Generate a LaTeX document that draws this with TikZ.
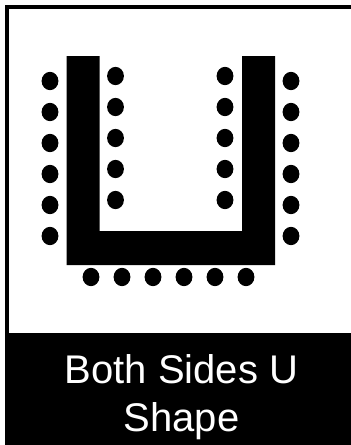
\documentclass[tikz,border=0pt]{standalone}
\usepackage{fontspec}
\setmainfont{Liberation Sans}
\usetikzlibrary{positioning,shapes.geometric}

\begin{document}
\begin{tikzpicture}[
        x=1pt, y=-1pt,
        node distance=12.7pt and 14.2pt, % gap between neighbouring seats
        seat/.style={ellipse, fill=black, inner sep=0pt, outer sep=0pt, minimum width=16.8pt, minimum height=18.3pt},
        caption/.style={text=white, inner sep=0pt, font=\fontsize{40pt}{48pt}\selectfont}
      ]
      \useasboundingbox (0,0) rectangle (351,445);

      % Frame and caption band
      \fill[black] (5,5) rectangle (351,445);
      \fill[white] (8.5,8.5) rectangle (351,333);

      % Table
      \fill[black] (66.5,56) -- (99.5,56) -- (99.5,231) -- (242,231) -- (242,56)
        -- (275,56) -- (275,265) -- (66.5,265) -- cycle;

      % Seats, outer left
      \node[seat] (ol1) at (50,81) {};
      \node[seat, below=of ol1] (ol2) {};
      \node[seat, below=of ol2] (ol3) {};
      \node[seat, below=of ol3] (ol4) {};
      \node[seat, below=of ol4] (ol5) {};
      \node[seat, below=of ol5] (ol6) {};

      % Seats, inner left
      \node[seat] (il1) at (115.5,76) {};
      \node[seat, below=of il1] (il2) {};
      \node[seat, below=of il2] (il3) {};
      \node[seat, below=of il3] (il4) {};
      \node[seat, below=of il4] (il5) {};

      % Seats, inner right
      \node[seat] (ir1) at (225,76) {};
      \node[seat, below=of ir1] (ir2) {};
      \node[seat, below=of ir2] (ir3) {};
      \node[seat, below=of ir3] (ir4) {};
      \node[seat, below=of ir4] (ir5) {};

      % Seats, outer right
      \node[seat] (or1) at (291,81) {};
      \node[seat, below=of or1] (or2) {};
      \node[seat, below=of or2] (or3) {};
      \node[seat, below=of or3] (or4) {};
      \node[seat, below=of or4] (or5) {};
      \node[seat, below=of or5] (or6) {};

      % Seats, bottom row
      \node[seat] (bt1) at (91,277) {};
      \node[seat, right=of bt1] (bt2) {};
      \node[seat, right=of bt2] (bt3) {};
      \node[seat, right=of bt3] (bt4) {};
      \node[seat, right=of bt4] (bt5) {};
      \node[seat, right=of bt5] (bt6) {};

      % Caption
      \node[caption, anchor=base] (line1) at (181.5,383) {Both Sides U};
      \node[caption, anchor=base] (line2) at (181.5,431) {Shape};

    \end{tikzpicture}
\end{document}
